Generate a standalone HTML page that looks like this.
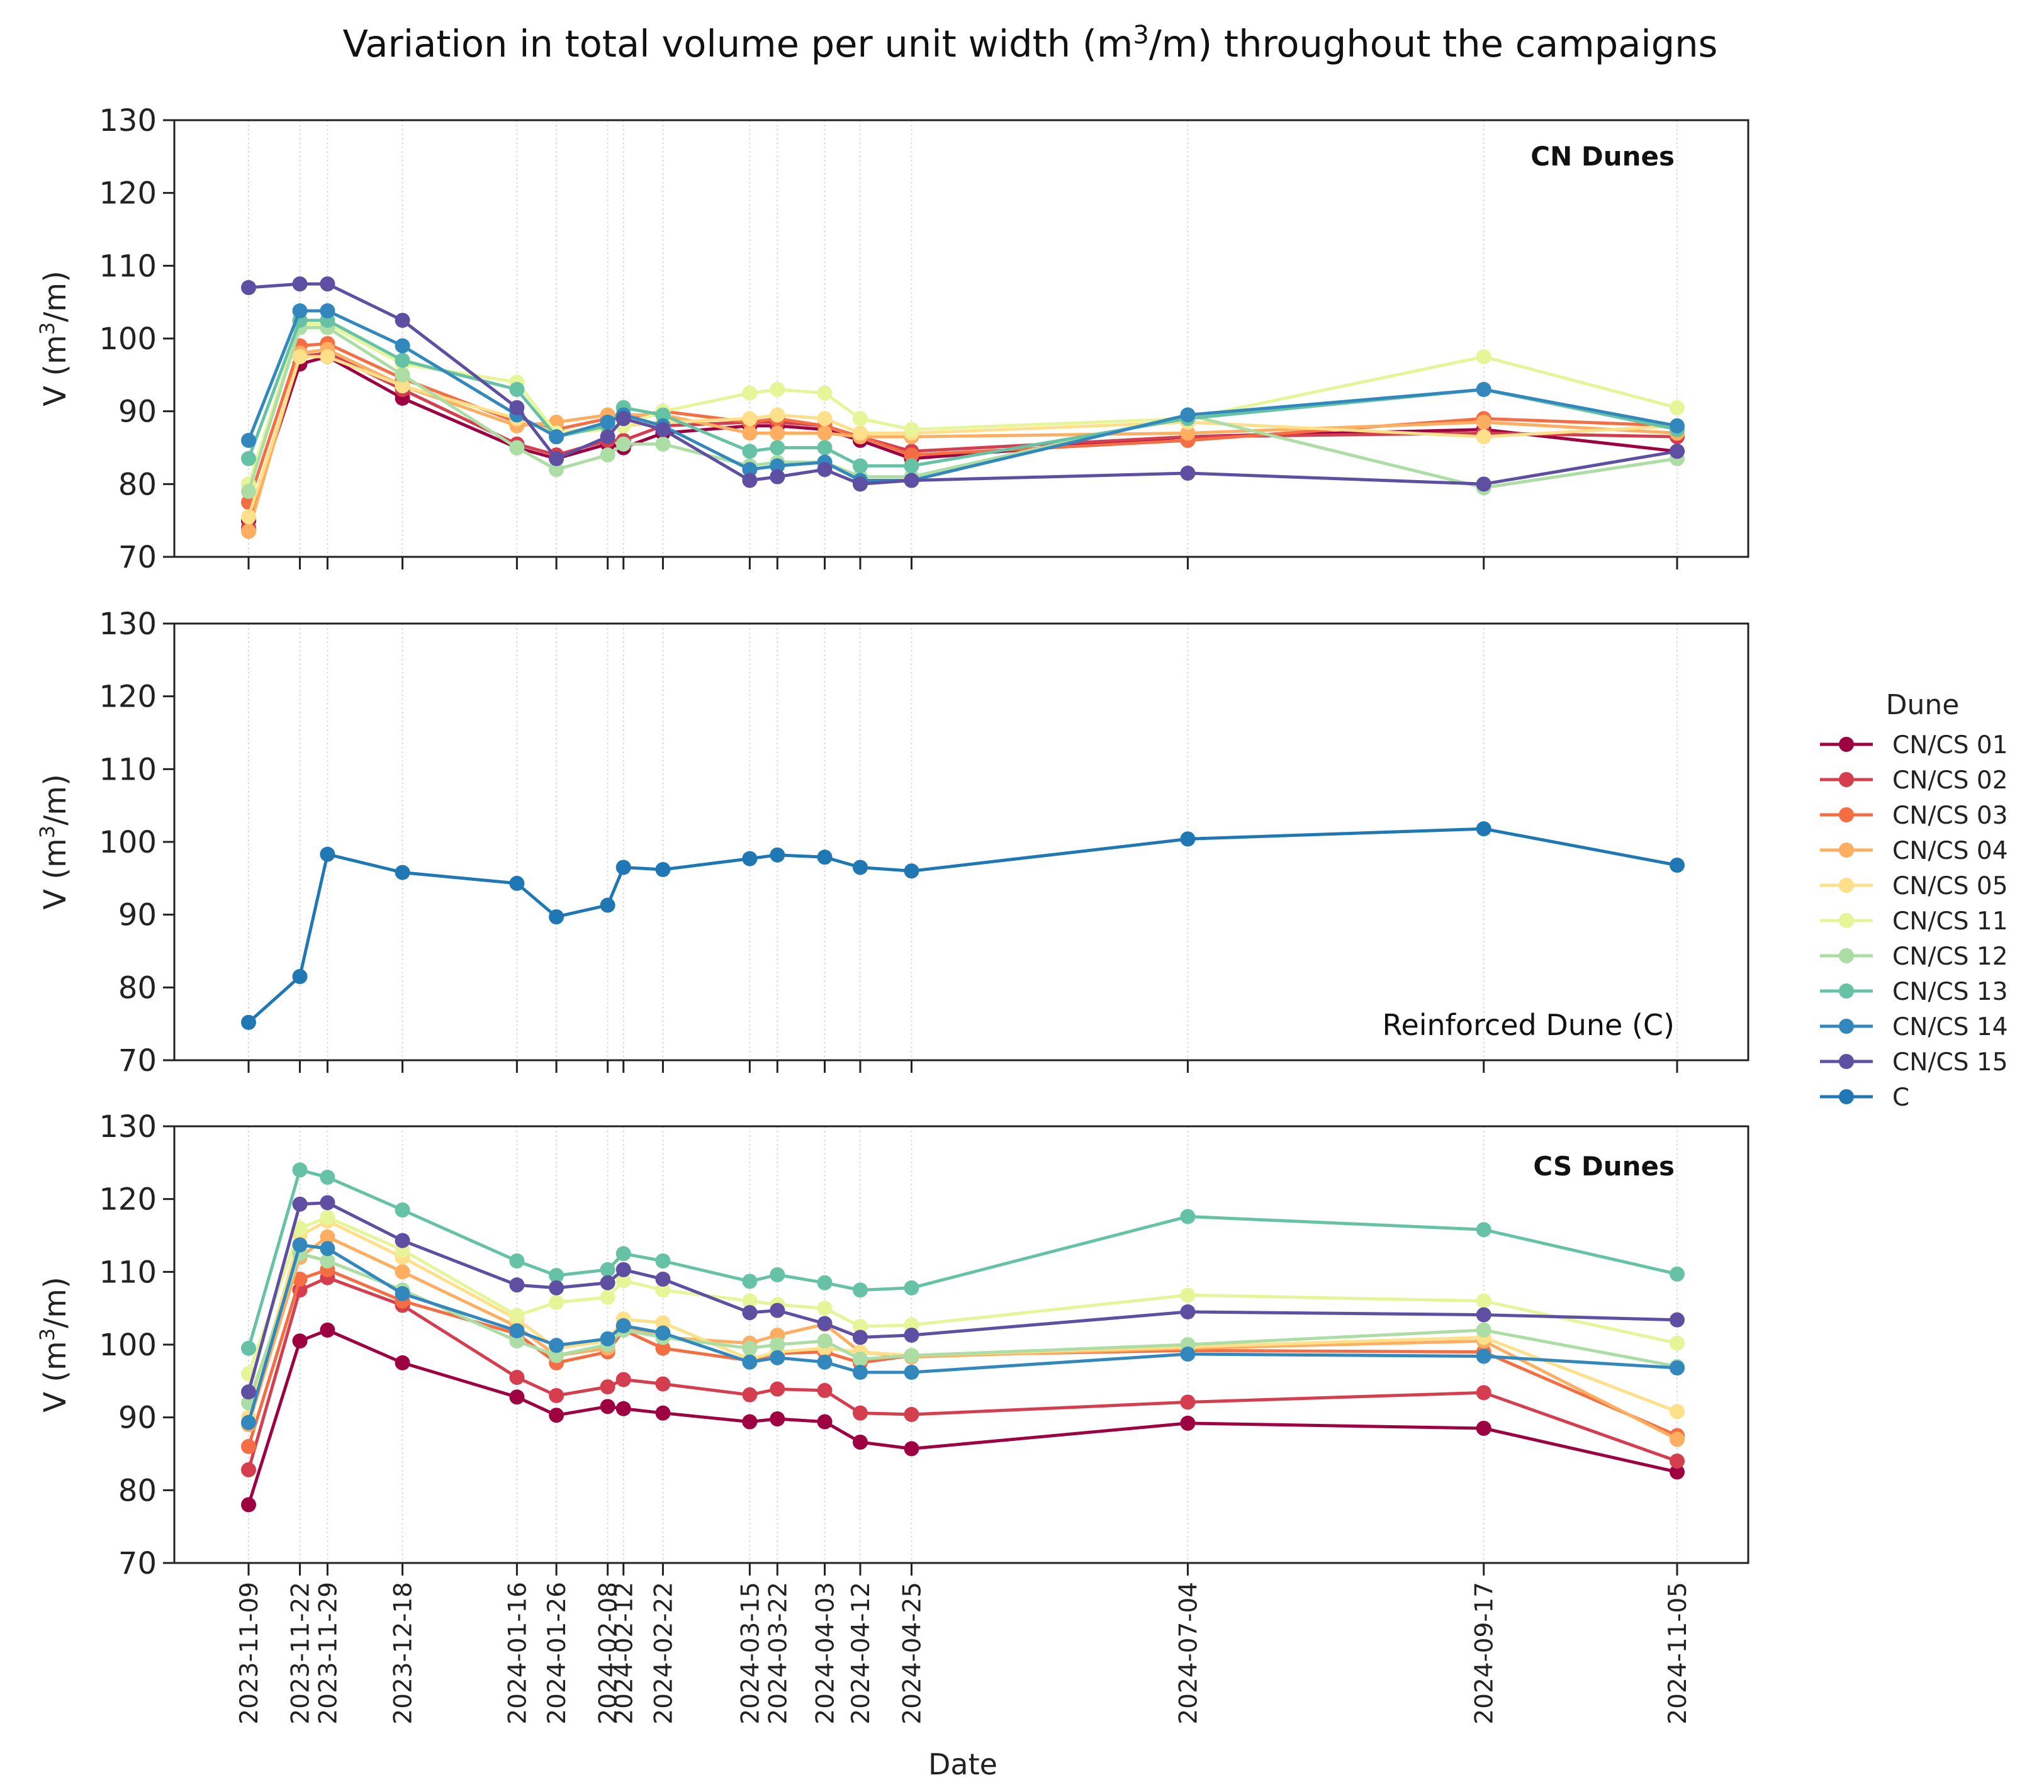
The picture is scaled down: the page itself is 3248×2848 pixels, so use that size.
<!DOCTYPE html>
<html><head><meta charset="utf-8"><style>
html,body{margin:0;padding:0;background:#fff;}
svg{display:block;font-family:"DejaVu Sans","Liberation Sans",sans-serif;}
</style></head><body>
<svg id="chart" width="3248" height="2848" viewBox="0 0 3248 2848" xmlns="http://www.w3.org/2000/svg">
<text x="1637" y="90" font-size="59" text-anchor="middle" fill="#111">Variation in total volume per unit width (m<tspan font-size="40" dy="-21">3</tspan><tspan dy="21">/m) throughout the campaigns</tspan></text>
</svg>
<script>
const dates = ["2023-11-09","2023-11-22","2023-11-29","2023-12-18","2024-01-16","2024-01-26","2024-02-08","2024-02-12","2024-02-22","2024-03-15","2024-03-22","2024-04-03","2024-04-12","2024-04-25","2024-07-04","2024-09-17","2024-11-05"];
const seriesNames = ["CN/CS 01","CN/CS 02","CN/CS 03","CN/CS 04","CN/CS 05","CN/CS 11","CN/CS 12","CN/CS 13","CN/CS 14","CN/CS 15"];
const seriesColors = ["#9e0142","#d53e4f","#f46d43","#fdae61","#fee08b","#e6f598","#abdda4","#66c2a5","#3288bd","#5e4fa2"];
const yTicks = [70,80,90,100,110,120,130];
const cn01 = [75,96.5,97.5,91.8,85,83.5,85.5,85,87,88,88,87.5,86,83.5,86.5,87.5,84.5];
const cn02 = [74,97.5,98,93,85.5,84,86,86,88,88.5,88.5,88,86.5,84.5,86.5,87,86.5];
const cn03 = [77.5,99,99.3,94.5,88.5,87.5,89,89,90,88.5,89,88,86.5,84,86,89,88];
const cn04 = [73.5,98,98.5,93.5,88,88.5,89.5,89.5,89.5,87,87,87,86.5,86.5,87,88.5,87];
const cn05 = [75.5,97.5,97.5,93.5,89,87,88,88,88.5,89,89.5,89,87,87,88.5,86.5,88];
const cn11 = [80,102,102,96.5,94,87,87.5,88,90,92.5,93,92.5,89,87.5,89,97.5,90.5];
const cn12 = [79,101.5,101.5,95,85,82,84,85.5,85.5,82.5,83,83,81,81,89.5,79.5,83.5];
const cn13 = [83.5,102.5,102.5,97,93,86.5,88,90.5,89.5,84.5,85,85,82.5,82.5,89,93,87.5];
const cn14 = [86,103.8,103.8,99,89.5,86.5,88.5,89.5,88,82,82.5,83,80.5,80.5,89.5,93,88];
const cn15 = [107,107.5,107.5,102.5,90.5,83.5,86.5,89,87.5,80.5,81,82,80,80.5,81.5,80,84.5];
const cVals = [75.2,81.5,98.3,95.8,94.3,89.7,91.3,96.5,96.2,97.7,98.2,97.9,96.5,96,100.4,101.8,96.8];
const cs01 = [78,100.5,102,97.5,92.8,90.3,91.5,91.2,90.6,89.4,89.8,89.4,86.6,85.7,89.2,88.5,82.5];
const cs02 = [82.8,107.5,109.2,105.4,95.5,93,94.2,95.2,94.6,93.1,93.9,93.7,90.6,90.4,92.1,93.4,84];
const cs03 = [86,109,110.3,106,101.5,97.5,99,102,99.5,97.8,98.8,99,97.5,98.5,99.2,99,87.5];
const cs04 = [89,112,114.8,110,102.5,98.5,99.5,102.5,101,100.2,101.3,102.8,99,98.3,99.5,100.5,87];
const cs05 = [90,115,117,112,103.5,99.5,100.5,103.5,103,98,99,99.5,99,98.5,99.7,101,90.8];
const cs11 = [96,116,117.5,113,104,105.8,106.5,108.8,107.5,106,105.5,105,102.5,102.7,106.8,106,100.2];
const cs12 = [92,112.5,111.5,107.5,100.5,98.5,100,102,101,99.5,100,100.5,98,98.5,100,102,97];
const cs13 = [99.5,124,123,118.5,111.5,109.5,110.3,112.5,111.5,108.7,109.6,108.5,107.5,107.8,117.6,115.8,109.7];
const cs14 = [89.3,113.7,113.2,107,101.9,99.9,100.8,102.6,101.6,97.6,98.2,97.6,96.2,96.2,98.7,98.4,96.8];
const cs15 = [93.5,119.3,119.5,114.3,108.2,107.8,108.5,110.3,109,104.4,104.7,102.9,101,101.3,104.5,104.1,103.4];
const cnSeries = [cn01,cn02,cn03,cn04,cn05,cn11,cn12,cn13,cn14,cn15];
const csSeries = [cs01,cs02,cs03,cs04,cs05,cs11,cs12,cs13,cs14,cs15];

const NS = "http://www.w3.org/2000/svg";
const svg = document.getElementById('chart');
function mk(tag, attrs, parent){const e=document.createElementNS(NS,tag);for(const k in attrs)e.setAttribute(k,attrs[k]);(parent||svg).appendChild(e);return e;}
const AX_L=277, AX_R=2778;
const t0 = Date.parse(dates[0]), t1 = Date.parse(dates[dates.length-1]);
function xScale(d){const t=Date.parse(d);return 395+(t-t0)/(t1-t0)*(2665-395);}
function yScaleFor(top,bot){return v=>bot-(v-70)/60*(bot-top);}

const panels = [
 {top:191,bot:885,name:'cn-panel',label:'CN Dunes',bold:true,labelY:263},
 {top:991,bot:1685,name:'c-panel',label:'Reinforced Dune (C)',bold:false,labelY:1645},
 {top:1790,bot:2484,name:'cs-panel',label:'CS Dunes',bold:true,labelY:1868}
];

function drawSeries(g, vals, color, ys, name){
  const pts = vals.map((v,i)=>xScale(dates[i]).toFixed(1)+','+ys(v).toFixed(1)).join(' ');
  const pl = mk('polyline',{points:pts,fill:'none',stroke:color,'stroke-width':5,'stroke-linejoin':'round'},g);
  
  
  vals.forEach((v,i)=>{
    const c = mk('circle',{cx:xScale(dates[i]),cy:ys(v),r:12,fill:color},g);
    
    
  });
}

panels.forEach((p,pi)=>{
  const g = mk('g',{});
  
  
  const ys = yScaleFor(p.top,p.bot);
  dates.forEach(d=>{
    const gl = mk('line',{x1:xScale(d),x2:xScale(d),y1:p.top,y2:p.bot,stroke:'#ddd','stroke-width':2,'stroke-dasharray':'3,4'},g);
    
    
    const tk = mk('line',{x1:xScale(d),x2:xScale(d),y1:p.bot,y2:p.bot+20,stroke:'#222','stroke-width':3},g);
    
    
  });
  yTicks.forEach(v=>{
    const tk = mk('line',{x1:AX_L-18,x2:AX_L,y1:ys(v),y2:ys(v),stroke:'#222','stroke-width':3},g);
    
    
    const tl = mk('text',{x:AX_L-28,y:ys(v)+17,'font-size':48,'text-anchor':'end',fill:'#222'},g);
    tl.textContent = v;
    
    
  });
  const yl = mk('text',{x:0,y:0,'font-size':48,'text-anchor':'middle',fill:'#222',transform:`translate(104 ${(p.top+p.bot)/2}) rotate(-90)`},g);
  yl.innerHTML = 'V (m<tspan font-size="32" dy="-18">3</tspan><tspan dy="18">/m)</tspan>';
  
  
  if(pi===0) cnSeries.forEach((s,i)=>drawSeries(g,s,seriesColors[i],ys,'cn-'+seriesNames[i].slice(-2)));
  if(pi===1) drawSeries(g,cVals,'#1f77b4',ys,'c');
  if(pi===2) csSeries.forEach((s,i)=>drawSeries(g,s,seriesColors[i],ys,'cs-'+seriesNames[i].slice(-2)));
  const fr = mk('rect',{x:AX_L,y:p.top,width:AX_R-AX_L,height:p.bot-p.top,fill:'none',stroke:'#222','stroke-width':3},g);
  
  
  const lb = mk('text',{x:2661,y:p.labelY,'font-size':p.bold?42:46,'font-weight':p.bold?'bold':'normal','text-anchor':'end',fill:'#111'},g);
  lb.textContent = p.label;
  
  
});

dates.forEach(d=>{
  const t = mk('text',{x:0,y:0,'font-size':39,'text-anchor':'end',fill:'#222',transform:`translate(${xScale(d)+14} 2514) rotate(-90)`});
  t.textContent = d;
  
  
});
const xt = mk('text',{x:1530,y:2820,'font-size':46,'text-anchor':'middle',fill:'#222'});
xt.textContent='Date';



const lg = mk('g',{});


const lt = mk('text',{x:3055,y:1135,'font-size':44,'text-anchor':'middle',fill:'#222'},lg);
lt.textContent='Dune';


const legNames = seriesNames.concat(['C']);
const legColors = seriesColors.concat(['#1f77b4']);
legNames.forEach((n,i)=>{
  const y = 1183 + i*56;
  const e = mk('g',{},lg);
  
  
  mk('line',{x1:2892,x2:2976,y1:y,y2:y,stroke:legColors[i],'stroke-width':5},e);
  mk('circle',{cx:2934,cy:y,r:12,fill:legColors[i]},e);
  const tx = mk('text',{x:3007,y:y+14,'font-size':39,fill:'#222'},e);
  tx.textContent = n;
});
</script>
</body></html>
